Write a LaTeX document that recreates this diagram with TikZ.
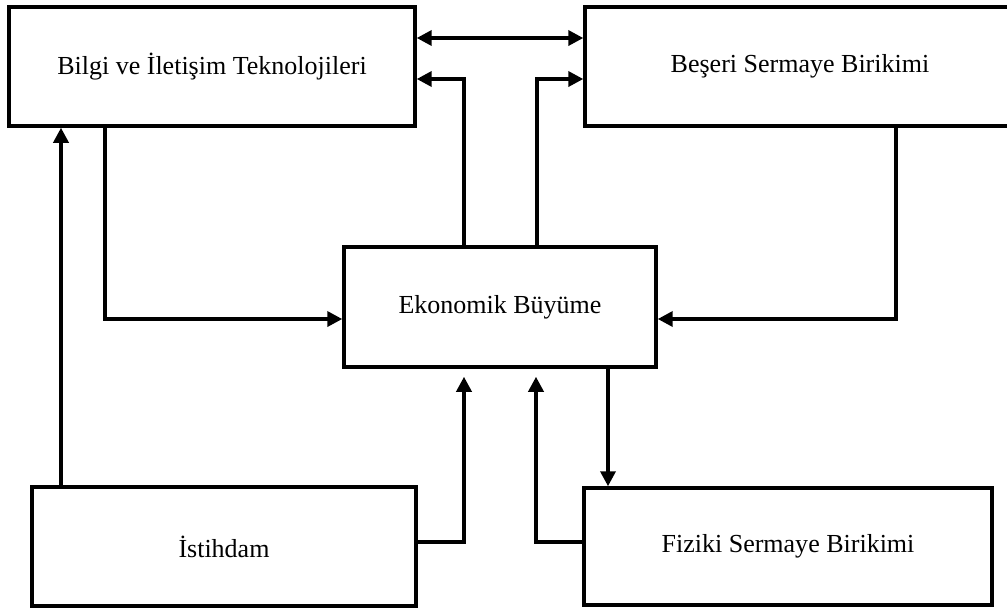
\documentclass[tikz,border=0pt]{standalone}
\usepackage{fontspec}
\setmainfont{Liberation Serif}
\usepackage{tikz}
\usetikzlibrary{calc,positioning,arrows.meta}
\tikzstyle{block} = [rectangle, draw=black, line width=2pt, text centered, inner sep=0pt, font=\fontsize{14.8}{17}\selectfont]
\tikzstyle{arrow} = [line width=2pt, -{Triangle[length=0.3cm,width=0.3cm]}]

\begin{document}
\begin{tikzpicture}[x=0.02cm,y=-0.02cm]
        \useasboundingbox (0,0) rectangle (1007,610);
        \node[block, minimum width=8.12cm, minimum height=2.38cm] (bilgi) at (212,66.5) {Bilgi ve İletişim Teknolojileri};
        \node[block, minimum width=8.6cm, minimum height=2.38cm] (beseri) at (800,66.5) {Beşeri Sermaye Birikimi};
        \node[block, minimum width=6.24cm, minimum height=2.4cm] (buyume) at (500,307) {Ekonomik Büyüme};
        \node[block, minimum width=7.68cm, minimum height=2.38cm] (istihdam) at (224,546.5) {İstihdam};
        \node[block, minimum width=8.16cm, minimum height=2.34cm] (fiziki) at (788,546.5) {Fiziki Sermaye Birikimi};

        \draw[arrow, {Triangle[length=0.3cm,width=0.3cm]}-{Triangle[length=0.3cm,width=0.3cm]}] (bilgi.east |- 0,38) -- (beseri.west |- 0,38);
        \draw[arrow] (buyume.north -| 464,0) |- (bilgi.east |- 0,79);
        \draw[arrow] (buyume.north -| 537,0) |- (beseri.west |- 0,79);
        \draw[arrow] (bilgi.south -| 105,0) |- (buyume.west |- 0,319);
        \draw[arrow] (beseri.south -| 896,0) |- (buyume.east |- 0,319);

        \draw[arrow] (istihdam.north -| 61,0) -- (bilgi.south -| 61,0);
        \draw[arrow, shorten >=0.16cm] (istihdam.east |- 0,542) -| (buyume.south -| 464,0);
        \draw[arrow, shorten >=0.16cm] (fiziki.west |- 0,542) -| (buyume.south -| 536,0);
        \draw[arrow] (buyume.south -| 608,0) -- (fiziki.north -| 608,0);
    \end{tikzpicture}
\end{document}
